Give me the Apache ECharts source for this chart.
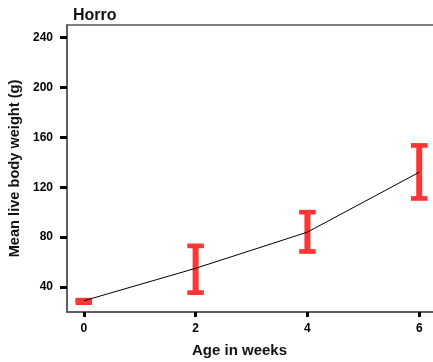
<!DOCTYPE html>
<html>
<head>
<meta charset="utf-8">
<script src="https://cdn.jsdelivr.net/npm/echarts@6/dist/echarts.min.js"></script>
<style>
  html, body { margin: 0; padding: 0; background: #fff; }
  #chart { width: 433px; height: 362px; }
</style>
</head>
<body>
<div id="chart"></div>
<script>
// Horro chicks: mean live body weight by age, with error ranges
const weeks = [0, 2, 4, 6];
const meanWeight = [29, 55, 84, 132];
const lowWeight = [27.5, 35.5, 68.5, 111];
const highWeight = [29.5, 73, 100, 153.5];
const xTicks = [0, 2, 4, 6];
const yTicks = [40, 80, 120, 160, 200, 240];

const RED = '#ff3535';
const FONT = 'Liberation Sans, Arial, sans-serif';

const chart = echarts.init(document.getElementById('chart'), null, { renderer: 'canvas' });

const errorData = weeks.map((w, i) => [w, lowWeight[i], highWeight[i]]);
const lineData = weeks.map((w, i) => [w, meanWeight[i]]);

chart.setOption({
  animation: false,
  backgroundColor: '#fff',
  title: {
    text: 'Horro',
    left: 68,
    top: 3,
    textStyle: { fontFamily: FONT, fontSize: 16, fontWeight: 'bold', color: '#111' }
  },
  grid: {
    left: 67, top: 25, width: 369, height: 287,
    outerBoundsMode: 'none',
    containLabel: false,
    show: true, borderColor: '#555', borderWidth: 1.5, backgroundColor: 'transparent'
  },
  xAxis: {
    type: 'value',
    min: -0.3, max: 6.3,
    name: 'Age in weeks',
    nameLocation: 'middle',
    nameGap: 31,
    nameTextStyle: { fontFamily: FONT, fontSize: 15, fontWeight: 'bold', color: '#111', padding: [0, 24, 0, 0] },
    axisLine: { show: true, onZero: false, lineStyle: { color: '#555', width: 1.5 } },
    axisTick: { show: true, customValues: xTicks, length: 5, lineStyle: { color: '#000', width: 3 } },
    axisLabel: { customValues: xTicks, margin: 11, fontFamily: FONT, fontSize: 12, fontWeight: 'bold', color: '#000' },
    splitLine: { show: false }
  },
  yAxis: {
    type: 'value',
    min: 20, max: 250,
    name: 'Mean live body weight (g)',
    nameLocation: 'middle',
    nameGap: 42,
    nameTextStyle: { fontFamily: FONT, fontSize: 14.6, fontWeight: 'bold', color: '#111' },
    axisLine: { show: true, onZero: false, lineStyle: { color: '#555', width: 1.5 } },
    axisTick: { show: true, customValues: yTicks, length: 7, lineStyle: { color: '#000', width: 3 } },
    axisLabel: { customValues: yTicks, margin: 14, fontFamily: FONT, fontSize: 12, fontWeight: 'bold', color: '#000' },
    splitLine: { show: false }
  },
  series: [
    {
      type: 'custom',
      data: errorData,
      z: 2,
      renderItem: function (params, api) {
        const x = api.value(0);
        const lo = api.coord([x, api.value(1)]);
        const hi = api.coord([x, api.value(2)]);
        const half = 8.3;
        const style = { stroke: RED, lineWidth: 4.7, fill: null };
        return {
          type: 'group',
          children: [
            { type: 'line', shape: { x1: lo[0], y1: lo[1], x2: hi[0], y2: hi[1] }, style: { stroke: RED, lineWidth: 6 } },
            { type: 'line', shape: { x1: lo[0] - half, y1: lo[1], x2: lo[0] + half, y2: lo[1] }, style: style },
            { type: 'line', shape: { x1: hi[0] - half, y1: hi[1], x2: hi[0] + half, y2: hi[1] }, style: style }
          ]
        };
      }
    },
    {
      type: 'line',
      data: lineData,
      z: 5,
      showSymbol: false,
      symbol: 'none',
      lineStyle: { color: '#000', width: 1 }
    }
  ]
});
</script>
</body>
</html>
